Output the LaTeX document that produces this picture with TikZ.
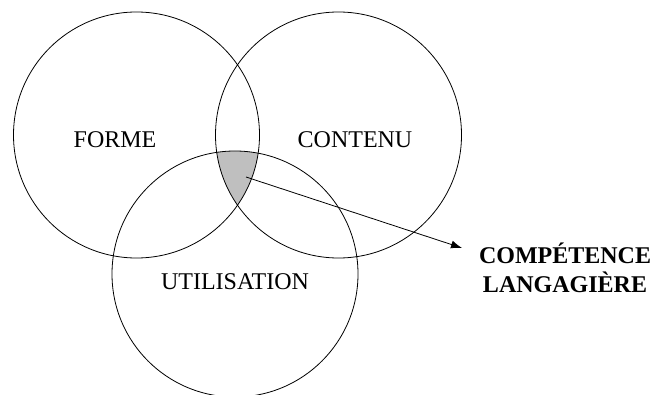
\documentclass[tikz,border=0pt]{standalone}
\usepackage{fontspec}
\setmainfont{Liberation Serif}
\usetikzlibrary{arrows.meta}
\begin{document}
\begin{tikzpicture}[x=1pt,y=1pt,
  ring/.style={circle, draw, line width=0.8pt, minimum size=246pt, inner sep=0pt, outer sep=0pt},
  lbl/.style={font=\fontsize{24}{29}\selectfont, inner sep=0pt, anchor=base},
  blbl/.style={font=\fontsize{24}{29}\selectfont\bfseries, inner sep=0pt, align=center}]
\useasboundingbox (0,0) rectangle (655,394);
\begin{scope}
  \clip (136.5,259) circle (123);
  \clip (338.5,259) circle (123);
  \fill[gray!50] (235,120) circle (123);
\end{scope}
\node[ring] (forme) at (136.5,259) {};
\node[ring] (contenu) at (338.5,259) {};
\node[ring] (util) at (235,120) {};
\node[lbl] (tforme) at (115,246) {FORME};
\node[lbl] (tcontenu) at (355,246) {CONTENU};
\node[lbl] (tutil) at (235,105) {UTILISATION};
\node[blbl] (comp) at (565,126) {COMPÉTENCE\\LANGAGIÈRE};
\coordinate (s) at (246,217);
\coordinate (t) at (462,146);
\draw[line width=0.8pt, -{Latex[length=11pt,width=8pt]}] (s) -- (t);
\end{tikzpicture}
\end{document}
